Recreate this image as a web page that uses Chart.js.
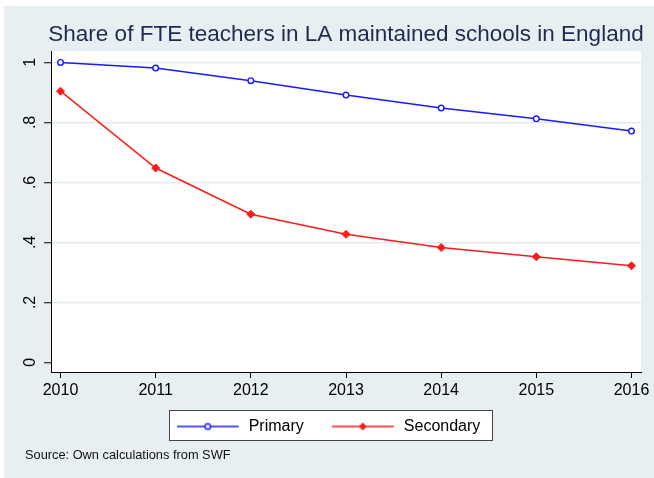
<!DOCTYPE html>
<html>
<head>
<meta charset="utf-8">
<script src="https://cdn.jsdelivr.net/npm/chart.js@4.4.1/dist/chart.umd.min.js"></script>
<style>
html, body { margin: 0; padding: 0; background: #fff; }
#wrap { position: absolute; left: 4px; top: 6px; width: 650px; height: 472px; background: #e8eff2; }
#note { position: absolute; left: 21px; top: 441px; font: 12.8px "Liberation Sans", Arial, sans-serif; line-height: 15px; color: #111; }
</style>
</head>
<body>
<div id="wrap">
  <canvas id="chart" width="650" height="472"></canvas>
  <div id="note">Source: Own calculations from SWF</div>
</div>
<script>
const years = [2010, 2011, 2012, 2013, 2014, 2015, 2016];
const primary = [1.0, 0.981, 0.939, 0.891, 0.848, 0.812, 0.771];
const secondary = [0.904, 0.648, 0.494, 0.427, 0.383, 0.352, 0.322];
const yTicks = [0, 0.2, 0.4, 0.6, 0.8, 1];
const yTickLabels = ["0", ".2", ".4", ".6", ".8", "1"];
const seriesNames = ["Primary", "Secondary"];

const FONT = '"Liberation Sans", Arial, Helvetica, sans-serif';
const BLUE = "#1a1aff";
const RED = "#ff1a1a";

// line + marker sample used as the legend symbol
function legendGlyph(color, style){
    const c = document.createElement("canvas");
    c.width = 64;
    c.height = 12;
    const g = c.getContext("2d");
    g.strokeStyle = color;
    g.lineWidth = 1.5;
    g.beginPath();
    g.moveTo(0, 6);
    g.lineTo(62, 6);
    g.stroke();
    g.beginPath();
    if(style == "circle"){
        g.arc(31, 6, 2.8, 0, Math.PI * 2);
        g.fillStyle = "#fff";
        g.fill();
        g.lineWidth = 1.4;
        g.stroke();
    } else {
        g.moveTo(31, 2);
        g.lineTo(35, 6);
        g.lineTo(31, 10);
        g.lineTo(27, 6);
        g.closePath();
        g.fillStyle = color;
        g.fill();
    }
    return c;
}

const glyphs = [legendGlyph(BLUE, "circle"), legendGlyph(RED, "diamond")];

// white plot region, framed legend box, and small placement tweaks
const backdrop = {
    id: "backdrop",
    afterLayout(chart){
        // legend sits just under the tick labels, title may run a bit past the plot width
        const lg = chart.legend;
        const dy = (chart.chartArea.bottom + 18.5) - lg.top;
        lg.top += dy;
        lg.bottom += dy;
        lg.left += 6;
        lg.right += 6;
        const tb = chart.titleBlock;
        tb.left -= 12;
        tb.right += 12;
    },
    beforeDraw(chart){
        const ctx = chart.ctx;
        const a = chart.chartArea;
        ctx.save();
        ctx.fillStyle = "#fff";
        ctx.fillRect(a.left, a.top, a.right - a.left, a.bottom - a.top);
        const boxes = chart.legend.legendHitBoxes;
        if(boxes && boxes.length){
            const first = boxes[0];
            const last = boxes[boxes.length - 1];
            const x1 = Math.round(first.left - 8);
            const x2 = Math.round(last.left + last.width + 12);
            const y1 = Math.round(first.top - 9);
            const y2 = Math.round(first.top + first.height + 5);
            ctx.fillRect(x1, y1, x2 - x1, y2 - y1);
            ctx.strokeStyle = "#444";
            ctx.lineWidth = 1;
            ctx.strokeRect(x1 + 0.5, y1 + 0.5, x2 - x1, y2 - y1);
        }
        ctx.restore();
    }
};

new Chart(document.getElementById("chart"), {

    type: "line",

    data: {
        datasets: [{
            label: seriesNames[0],
            data: years.map((x, i) => ({x: x, y: primary[i]})),
            borderColor: BLUE,
            borderWidth: 1.5,
            pointStyle: "circle",
            pointRadius: 2.8,
            pointBorderWidth: 1.4,
            pointBackgroundColor: "#fff",
            pointBorderColor: BLUE,
            tension: 0
        }, {
            label: seriesNames[1],
            data: years.map((x, i) => ({x: x, y: secondary[i]})),
            borderColor: RED,
            borderWidth: 1.5,
            pointStyle: "rectRot",
            pointRadius: 4,
            pointBorderWidth: 1,
            pointBackgroundColor: RED,
            pointBorderColor: RED,
            tension: 0
        }]
    },

    options: {
        responsive: false,
        animation: false,
        devicePixelRatio: 1,
        layout: {
            padding: {left: 0, right: 13, top: 0, bottom: 22}
        },
        plugins: {
            title: {
                display: true,
                text: "Share of FTE teachers in LA maintained schools in England",
                color: "#1e2b4d",
                font: {family: FONT, size: 22.5, weight: "normal"},
                padding: {top: 15.7, bottom: 2.3},
                fullSize: false
            },
            legend: {
                position: "bottom",
                labels: {
                    font: {family: FONT, size: 16},
                    color: "#000",
                    usePointStyle: true,
                    pointStyleWidth: 64,
                    padding: 28,
                    generateLabels: chart => chart.data.datasets.map((d, i) => ({
                        text: d.label,
                        pointStyle: glyphs[i],
                        datasetIndex: i,
                        hidden: false,
                        lineWidth: 0,
                        strokeStyle: "rgba(0,0,0,0)",
                        fillStyle: "rgba(0,0,0,0)"
                    }))
                }
            },
            tooltip: {enabled: false}
        },
        scales: {
            x: {
                type: "linear",
                min: 2009.9,
                max: 2016.1,
                afterBuildTicks: s => { s.ticks = years.map(v => ({value: v})); },
                afterFit: s => { s.height = 30; s.paddingLeft = 0; s.paddingRight = 0; },
                ticks: {
                    autoSkip: false,
                    maxRotation: 0,
                    padding: 3,
                    color: "#000",
                    font: {family: FONT, size: 16},
                    callback: v => String(v)
                },
                grid: {drawOnChartArea: false, drawTicks: true, tickLength: 6, tickColor: "#000", tickWidth: 1},
                border: {color: "#000", width: 1}
            },
            y: {
                min: -0.032,
                max: 1.038,
                afterBuildTicks: s => { s.ticks = yTicks.map(v => ({value: v})); },
                afterFit: s => { s.width = 47; s.paddingTop = 0; s.paddingBottom = 0; },
                ticks: {
                    minRotation: 90,
                    maxRotation: 90,
                    crossAlign: "center",
                    padding: 6.3,
                    color: "#000",
                    font: {family: FONT, size: 16},
                    callback: (v, i) => yTickLabels[i]
                },
                grid: {
                    color: c => (c.tick && c.tick.value === 0) ? "rgba(0,0,0,0)" : "#e4ebef",
                    lineWidth: 1.5,
                    tickColor: "#000",
                    tickLength: 7,
                    tickWidth: 1
                },
                border: {color: "#000", width: 1}
            }
        }
    },

    plugins: [backdrop]

});
</script>
</body>
</html>
